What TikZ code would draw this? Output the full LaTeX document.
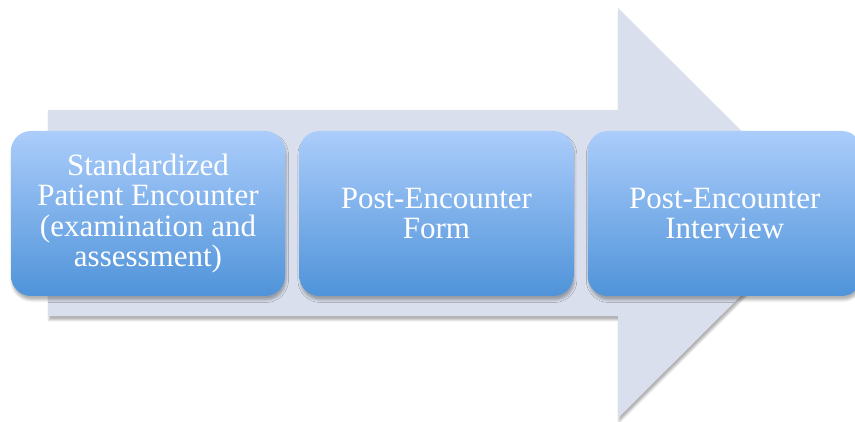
\documentclass[tikz,border=0pt]{standalone}
\usepackage{fontspec}
\setmainfont{Liberation Serif}
\usetikzlibrary{positioning,shadows.blur}
\definecolor{arrowgray}{HTML}{D9DFEC}
\definecolor{boxtop}{HTML}{ABCDFB}
\definecolor{boxbot}{HTML}{4F93D9}

\begin{document}
\begin{tikzpicture}[x=1pt, y=1pt,
    stage/.style={rounded corners=20pt, minimum width=274pt, minimum height=165pt,
      top color=boxtop, bottom color=boxbot, text=white, align=center, inner sep=0pt,
      font=\fontsize{31}{30.5}\selectfont,
      blur shadow={shadow xshift=1pt, shadow yshift=-4pt, shadow blur radius=2.5pt, shadow opacity=30}}]
      \useasboundingbox (0,0) rectangle (855,422);
      % big arrow behind the stages
      \coordinate (tl) at (48,312); \coordinate (bl) at (48,106);
      \coordinate (ht) at (618,414); \coordinate (hb) at (618,4);
      \coordinate (tip) at (824,209);
      \fill[arrowgray, blur shadow={shadow xshift=1pt, shadow yshift=-4pt, shadow blur radius=2pt, shadow opacity=30}]
        (tl) -- (618,312) -- (ht) -- (tip) -- (hb) -- (618,106) -- (bl) -- cycle;
      \node[stage] (enc) at (148,208.5) {Standardized\\Patient Encounter\\(examination and\\assessment)};
      \node[stage, right=14pt of enc] (form) {Post-Encounter\\Form};
      \node[stage, right=14pt of form] (intv) {Post-Encounter\\Interview};
    \end{tikzpicture}
\end{document}
